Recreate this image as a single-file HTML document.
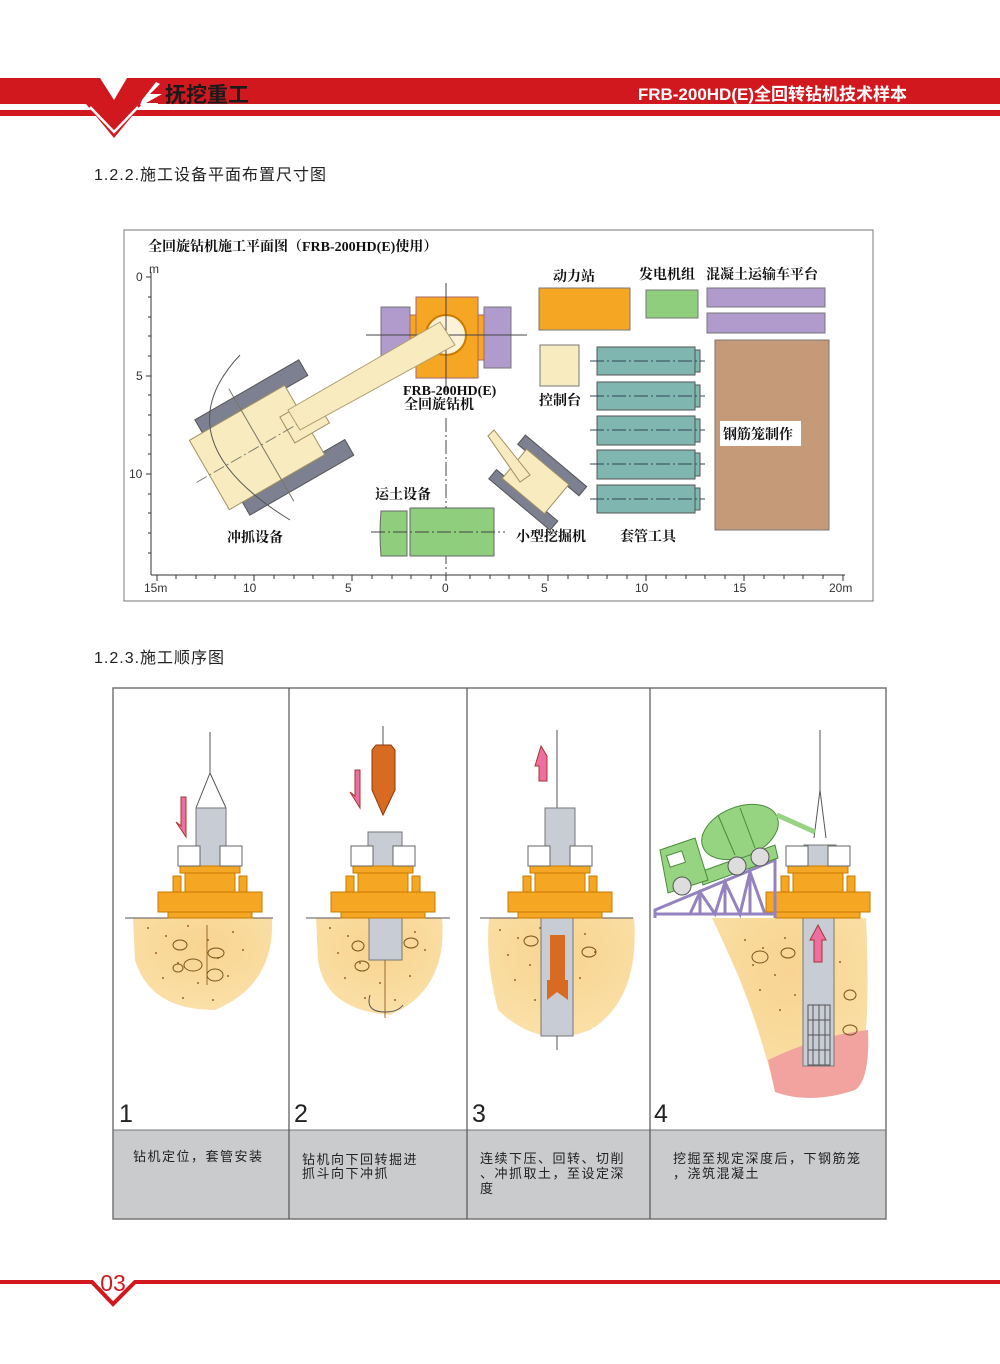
<!DOCTYPE html>
<html><head><meta charset="utf-8"><style>
html,body{margin:0;padding:0;background:#fff}
svg{display:block}
text{font-family:"Liberation Sans","Noto Sans CJK SC",sans-serif}
.s{font-family:"Liberation Serif","Noto Serif CJK SC",serif;font-weight:bold;font-size:14px;fill:#111}
.ax{font-size:12px;fill:#333}
.cap{font-size:13px;fill:#222;letter-spacing:1.5px}
.num{font-size:25px;fill:#222}
</style></head><body>
<svg width="1000" height="1364" viewBox="0 0 1000 1364" xmlns="http://www.w3.org/2000/svg">
<!-- header -->
<rect x="0" y="78" width="1000" height="26" fill="#d2181f"/>
<rect x="0" y="110" width="1000" height="6" fill="#d2181f"/>
<polygon points="100,78 127,78 114,100" fill="#fff"/>
<polygon points="86,104 142,104 114,138" fill="#d2181f"/>
<polyline points="90,107 114,132 138,107" fill="none" stroke="#fff" stroke-width="2.5"/>
<polygon points="142,100 156,82 160,84 150,94 162,94 146,103 158,103 158,105 140,105" fill="#fff"/>
<text x="165" y="102" font-size="21" font-weight="bold" fill="#1a1a1a" style="font-family:'Noto Sans CJK SC',sans-serif">抚挖重工</text>
<text x="907" y="100" font-size="17" font-weight="bold" fill="#fff" text-anchor="end">FRB-200HD(E)全回转钻机技术样本</text>

<text x="94" y="180" font-size="16" fill="#222" letter-spacing="1">1.2.2.施工设备平面布置尺寸图</text>

<!-- plan -->
<rect x="124" y="230" width="749" height="371" fill="#fff" stroke="#777" stroke-width="1"/>
<text x="148" y="251" class="s">全回旋钻机施工平面图（FRB-200HD(E)使用）</text>
<g stroke="#333" stroke-width="1">
<line x1="151" y1="272" x2="151" y2="575"/>
<line x1="151" y1="575" x2="845" y2="575"/>
<line x1="146" y1="277" x2="151" y2="277"/><line x1="146" y1="376" x2="151" y2="376"/><line x1="146" y1="474" x2="151" y2="474"/>
<line x1="148" y1="297" x2="151" y2="297"/><line x1="148" y1="317" x2="151" y2="317"/><line x1="148" y1="336" x2="151" y2="336"/><line x1="148" y1="356" x2="151" y2="356"/><line x1="148" y1="395" x2="151" y2="395"/><line x1="148" y1="415" x2="151" y2="415"/><line x1="148" y1="435" x2="151" y2="435"/><line x1="148" y1="454" x2="151" y2="454"/><line x1="148" y1="494" x2="151" y2="494"/><line x1="148" y1="513" x2="151" y2="513"/><line x1="148" y1="533" x2="151" y2="533"/><line x1="148" y1="553" x2="151" y2="553"/>
</g>
<g stroke="#333" stroke-width="1">
<path d="M157 575v6M176 575v4M196 575v4M215 575v4M235 575v4M254 575v6M274 575v4M294 575v4M313 575v4M333 575v4M352 575v6M372 575v4M392 575v4M411 575v4M431 575v4M446 575v6M470 575v4M490 575v4M509 575v4M529 575v4M548 575v6M568 575v4M588 575v4M607 575v4M627 575v4M646 575v6M666 575v4M686 575v4M705 575v4M725 575v4M744 575v6M764 575v4M784 575v4M803 575v4M823 575v4M843 575v6"/>
</g>
<text class="ax" x="136" y="281">0</text><text class="ax" x="149" y="273" font-size="10">m</text>
<text class="ax" x="136" y="380">5</text><text class="ax" x="129" y="478">10</text>
<text class="ax" x="144" y="592">15m</text><text class="ax" x="243" y="592">10</text><text class="ax" x="345" y="592">5</text><text class="ax" x="442" y="592">0</text><text class="ax" x="541" y="592">5</text><text class="ax" x="635" y="592">10</text><text class="ax" x="733" y="592">15</text><text class="ax" x="829" y="592">20m</text>

<!-- rig -->
<rect x="381" y="307" width="29" height="61" fill="#b09bcc" stroke="#777"/>
<rect x="484" y="307" width="27" height="61" fill="#b09bcc" stroke="#777"/>
<rect x="410" y="315" width="74" height="45" fill="#f5a623" stroke="#a66"/>
<rect x="416" y="297" width="62" height="81" fill="#f5a623" stroke="#a66"/>
<circle cx="446" cy="335" r="20" fill="#fbf2d8" stroke="#c97b00" stroke-width="2"/>
<line x1="366" y1="335" x2="527" y2="335" stroke="#444"/>
<line x1="446" y1="283" x2="446" y2="392" stroke="#444"/>
<!-- crawler crane body -->
<g transform="rotate(-30 270 440)">
<rect x="215" y="385" width="120" height="18" fill="#7d8090" stroke="#555"/>
<rect x="215" y="477" width="120" height="18" fill="#7d8090" stroke="#555"/>
<rect x="200" y="400" width="110" height="80" fill="#f7ebbf" stroke="#a09060"/>
<rect x="290" y="425" width="40" height="30" fill="#f7ebbf" stroke="#a09060"/>
<line x1="185" y1="440" x2="350" y2="440" stroke="#776" stroke-dasharray="12,3,2,3"/>
<line x1="260" y1="375" x2="260" y2="505" stroke="#776"/>
</g>
<!-- boom -->
<polygon points="440,322 455,345 300,430 288,410" fill="#f7ebbf" stroke="#b0a070"/>
<path d="M240 355 Q160 440 290 520" fill="none" stroke="#555"/>
<text x="403" y="395" class="s" font-size="12">FRB-200HD(E)</text>
<text x="404" y="409" class="s">全回旋钻机</text>
<line x1="446" y1="418" x2="446" y2="575" stroke="#444" stroke-dasharray="14,3,2,3"/>
<!-- right equipment -->
<text x="553" y="281" class="s">动力站</text>
<rect x="539" y="288" width="91" height="42" fill="#f5a623" stroke="#777"/>
<text x="639" y="279" class="s">发电机组</text>
<rect x="646" y="290" width="52" height="28" fill="#8fce7d" stroke="#777"/>
<text x="706" y="279" class="s">混凝土运输车平台</text>
<rect x="707" y="288" width="118" height="19" fill="#b09bcc" stroke="#777"/>
<rect x="707" y="313" width="118" height="20" fill="#b09bcc" stroke="#777"/>
<rect x="540" y="345" width="39" height="41" fill="#f7ebbf" stroke="#777"/>
<text x="539" y="405" class="s">控制台</text>
<g fill="#7fb6b0" stroke="#555">
<rect x="597" y="347" width="98" height="28"/><rect x="695" y="350" width="5" height="22"/>
<rect x="597" y="382" width="98" height="28"/><rect x="695" y="385" width="5" height="22"/>
<rect x="597" y="416" width="98" height="29"/><rect x="695" y="419" width="5" height="23"/>
<rect x="597" y="450" width="98" height="29"/><rect x="695" y="453" width="5" height="23"/>
<rect x="597" y="485" width="98" height="28"/><rect x="695" y="488" width="5" height="22"/>
</g>
<g stroke="#345" stroke-dasharray="14,3,2,3"><line x1="590" y1="361" x2="705" y2="361"/><line x1="590" y1="396" x2="705" y2="396"/><line x1="590" y1="430" x2="705" y2="430"/><line x1="590" y1="464" x2="705" y2="464"/><line x1="590" y1="499" x2="705" y2="499"/></g>
<rect x="715" y="340" width="114" height="190" fill="#c49a78" stroke="#777"/>
<rect x="720" y="421" width="81" height="25" fill="#fff"/>
<text x="723" y="439" class="s">钢筋笼制作</text>
<text x="375" y="499" class="s">运土设备</text>
<path d="M381 511 L407 511 L407 556 L381 556 Q379 533 381 511Z" fill="#8fce7d" stroke="#666"/>
<rect x="410" y="508" width="84" height="48" fill="#8fce7d" stroke="#666"/>
<line x1="371" y1="532" x2="505" y2="532" stroke="#444" stroke-dasharray="14,3,2,3"/>
<!-- small excavator -->
<g transform="rotate(40 540 480)">
<rect x="500" y="455" width="80" height="12" fill="#7d8090" stroke="#555"/>
<rect x="500" y="500" width="80" height="12" fill="#7d8090" stroke="#555"/>
<rect x="510" y="465" width="55" height="38" fill="#f7ebbf" stroke="#a09060"/>
</g>
<polygon points="488,436 494,430 530,475 520,482" fill="#f7ebbf" stroke="#a09060"/>
<text x="516" y="541" class="s">小型挖掘机</text>
<text x="620" y="541" class="s">套管工具</text>
<text x="227" y="542" class="s">冲抓设备</text>

<text x="94" y="663" font-size="16" fill="#222" letter-spacing="1">1.2.3.施工顺序图</text>

<!-- sequence panel -->
<rect x="113" y="1130" width="773" height="89" fill="#cacbcd"/>
<rect x="113" y="688" width="773" height="531" fill="none" stroke="#777" stroke-width="1.5"/>
<line x1="113" y1="1130" x2="886" y2="1130" stroke="#777"/>
<g stroke="#555" stroke-width="1.2"><line x1="289" y1="688" x2="289" y2="1219"/><line x1="467" y1="688" x2="467" y2="1219"/><line x1="650" y1="688" x2="650" y2="1219"/></g>
<text class="num" x="119" y="1122">1</text><text class="num" x="294" y="1122">2</text><text class="num" x="472" y="1122">3</text><text class="num" x="654" y="1122">4</text>
<text class="cap" x="133" y="1161">钻机定位，套管安装</text>
<text class="cap" x="302" y="1164">钻机向下回转掘进</text><text class="cap" x="302" y="1178">抓斗向下冲抓</text>
<text class="cap" x="480" y="1163">连续下压、回转、切削</text><text class="cap" x="480" y="1178">、冲抓取土，至设定深</text><text class="cap" x="480" y="1193">度</text>
<text class="cap" x="673" y="1163">挖掘至规定深度后，下钢筋笼</text><text class="cap" x="673" y="1178">，浇筑混凝土</text>

<defs>
<g id="rig">
<rect x="-52" y="-26" width="104" height="20" fill="#f5a623" stroke="#c97b00"/>
<rect x="-42" y="-6" width="84" height="6" fill="#f5a623" stroke="#c97b00"/>
<rect x="-37" y="-42" width="8" height="16" fill="#f5a623" stroke="#c97b00"/>
<rect x="29" y="-42" width="8" height="16" fill="#f5a623" stroke="#c97b00"/>
<rect x="-25" y="-45" width="50" height="19" fill="#f5a623" stroke="#c97b00"/>
<rect x="-30" y="-52" width="60" height="7" fill="#f5a623" stroke="#c97b00"/>
<rect x="-32" y="-72" width="22" height="20" fill="#fff" stroke="#666"/>
<rect x="10" y="-72" width="22" height="20" fill="#fff" stroke="#666"/>
</g>
<g id="dots" fill="#a0602a">
<circle cx="0" cy="0" r="1"/><circle cx="18" cy="8" r="1"/><circle cx="40" cy="-2" r="1"/><circle cx="60" cy="12" r="1"/><circle cx="85" cy="4" r="1"/><circle cx="8" cy="25" r="1"/><circle cx="30" cy="35" r="1"/><circle cx="70" cy="30" r="1"/><circle cx="95" cy="22" r="1"/><circle cx="15" cy="50" r="1"/><circle cx="50" cy="55" r="1"/><circle cx="80" cy="48" r="1"/><circle cx="35" cy="70" r="1"/><circle cx="65" cy="72" r="1"/>
</g>
<radialGradient id="soil" cx="50%" cy="30%" r="70%"><stop offset="0" stop-color="#f8d490"/><stop offset="1" stop-color="#fae0a8"/></radialGradient>
</defs>
<!-- panel 1 -->
<path d="M133 918 L272 918 Q275 985 215 1010 Q150 1010 135 960Z" fill="url(#soil)"/>
<use href="#dots" x="148" y="928"/>
<line x1="125" y1="918" x2="273" y2="918" stroke="#555"/>
<line x1="210" y1="732" x2="210" y2="773" stroke="#555"/>
<path d="M210 773 L196 808 M210 773 L226 808" stroke="#555" fill="none"/>
<rect x="196" y="808" width="30" height="60" fill="#c7ccd5" stroke="#777"/>
<use href="#rig" x="210" y="918"/>
<line x1="207" y1="925" x2="207" y2="985" stroke="#9a6a30"/>
<g fill="none" stroke="#7a5520"><ellipse cx="180" cy="945" rx="7" ry="5"/><ellipse cx="193" cy="965" rx="9" ry="6"/><ellipse cx="216" cy="953" rx="8" ry="5"/><ellipse cx="215" cy="975" rx="8" ry="6"/><ellipse cx="178" cy="968" rx="5" ry="4"/></g>
<polygon points="181,797 186,797 186,837 176,822 181,826" fill="#ec6fa0" stroke="#a33"/>
<!-- panel 2 -->
<path d="M316 918 L442 918 Q448 990 390 1015 Q325 1010 318 960Z" fill="url(#soil)"/>
<use href="#dots" x="330" y="928"/>
<line x1="306" y1="918" x2="450" y2="918" stroke="#555"/>
<rect x="369" y="918" width="33" height="42" fill="#c7ccd5" stroke="#777"/>
<line x1="385" y1="960" x2="385" y2="1018" stroke="#9a6a30"/>
<path d="M370 995 Q365 1012 385 1012 Q398 1012 403 1005" fill="none" stroke="#555"/>
<line x1="383" y1="726" x2="383" y2="745" stroke="#555"/>
<polygon points="376,745 391,745 395,750 395,790 383,815 372,790 372,750" fill="#d86a22" stroke="#8a3a10"/>
<rect x="368" y="832" width="34" height="36" fill="#c7ccd5" stroke="#777"/>
<use href="#rig" x="383" y="918"/>
<polygon points="355,770 360,770 360,808 350,792 355,796" fill="#ec6fa0" stroke="#a33"/>
<g fill="none" stroke="#7a5520"><ellipse cx="358" cy="946" rx="6" ry="5"/><ellipse cx="411" cy="943" rx="7" ry="5"/><ellipse cx="362" cy="966" rx="7" ry="5"/></g>
<!-- panel 3 -->
<path d="M489 918 L634 918 Q640 1000 590 1030 Q540 1050 498 1010 Q485 960 489 918Z" fill="url(#soil)"/>
<use href="#dots" x="500" y="930"/>
<line x1="480" y1="918" x2="633" y2="918" stroke="#555"/>
<rect x="541" y="918" width="32" height="118" fill="#c7ccd5" stroke="#777"/>
<rect x="550" y="935" width="15" height="45" fill="#d86a22"/>
<polygon points="547,980 568,980 568,1000 557,992 547,1000" fill="#d86a22"/>
<line x1="557" y1="730" x2="557" y2="808" stroke="#555"/>
<line x1="557" y1="1036" x2="557" y2="1050" stroke="#555"/>
<rect x="545" y="808" width="30" height="60" fill="#c7ccd5" stroke="#777"/>
<use href="#rig" x="560" y="918"/>
<polygon points="541,746 547,756 547,781 539,781 539,766 535,766" fill="#ec6fa0" stroke="#a33"/>
<g fill="none" stroke="#7a5520"><ellipse cx="531" cy="941" rx="7" ry="5"/><ellipse cx="589" cy="952" rx="7" ry="5"/></g>
<!-- panel 4 -->
<path d="M712 918 L866 918 Q872 1050 855 1085 Q820 1105 775 1090 Q760 1030 740 980 Q725 945 712 918Z" fill="url(#soil)"/>
<use href="#dots" x="745" y="940"/>
<path d="M768 1060 Q820 1035 868 1030 Q870 1080 855 1090 Q810 1105 775 1092Z" fill="#f2a3a0"/>
<rect x="803" y="918" width="31" height="148" fill="#c7ccd5" stroke="#777"/>
<g stroke="#555" fill="none"><rect x="808" y="1005" width="22" height="60"/><path d="M813 1005v60M819 1005v60M825 1005v60M808 1020h22M808 1035h22M808 1050h22"/></g>
<polygon points="818,925 826,940 822,940 822,962 814,962 814,940 810,940" fill="#ec6fa0" stroke="#a33"/>
<line x1="820" y1="730" x2="820" y2="790" stroke="#555"/>
<path d="M820 790 L814 838 M820 790 L826 838" stroke="#555"/>
<rect x="804" y="845" width="32" height="24" fill="#c7ccd5" stroke="#777"/>
<use href="#rig" x="818" y="918"/>
<!-- ramp truss -->
<g stroke="#9583c0" stroke-width="3" fill="none">
<polyline points="655,918 655,910 775,860 775,918"/>
<line x1="655" y1="914" x2="775" y2="914"/>
<path d="M690 914 L700 892 L715 914 L725 882 L740 914 L750 872 L765 914"/>
<line x1="700" y1="892" x2="700" y2="914"/><line x1="725" y1="882" x2="725" y2="914"/><line x1="750" y1="872" x2="750" y2="914"/>
</g>
<!-- mixer truck -->
<polygon points="700,872 775,845 778,858 703,885" fill="#96d481" stroke="#4a8a3a"/>
<ellipse cx="740" cy="832" rx="40" ry="25" transform="rotate(-22 740 832)" fill="#96d481" stroke="#4a8a3a"/>
<path d="M718 815 L735 855 M740 808 L755 848" stroke="#4a8a3a" fill="none"/>
<polygon points="660,850 695,838 708,880 668,893" fill="#96d481" stroke="#4a8a3a"/>
<rect x="668" y="853" width="16" height="12" fill="#fff" stroke="#4a8a3a" transform="rotate(-18 676 859)"/>
<line x1="777" y1="815" x2="815" y2="832" stroke="#96d481" stroke-width="5"/>
<circle cx="682" cy="886" r="9" fill="#ddd" stroke="#555"/><circle cx="737" cy="866" r="9" fill="#ddd" stroke="#555"/><circle cx="760" cy="857" r="9" fill="#ddd" stroke="#555"/>
<g fill="none" stroke="#7a5520"><ellipse cx="760" cy="957" rx="8" ry="6"/><ellipse cx="788" cy="953" rx="7" ry="5"/><ellipse cx="850" cy="995" rx="6" ry="5"/><ellipse cx="850" cy="1030" rx="7" ry="5"/></g>

<!-- footer -->
<polyline points="0,1282 92,1282 113,1304 135,1282 1000,1282" fill="none" stroke="#d2181f" stroke-width="4"/>
<text x="113" y="1291" font-size="23" fill="#d2181f" text-anchor="middle">03</text>
</svg>
</body></html>
